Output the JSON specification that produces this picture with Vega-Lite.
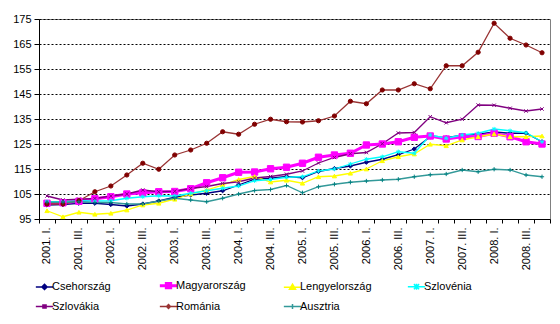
{
"$schema": "https://vega.github.io/schema/vega-lite/v6.json",
"width": 511, "height": 200,
"autosize": {"type": "none"},
"padding": {"left": 39, "top": 19, "right": 10, "bottom": 105},
"background": "white",
"config": {
  "font": "Liberation Sans",
  "view": {"stroke": "#808080", "strokeWidth": 1},
  "axis": {"labelFont": "Liberation Sans", "labelFontSize": 11, "labelColor": "black", "domainColor": "black", "tickColor": "black", "title": null}
},
"data": {"values": [
{"q":"2001. I.","c":"Csehország","v":100.6},{"q":"2001. II.","c":"Csehország","v":100.8},{"q":"2001. III.","c":"Csehország","v":101.3},{"q":"2001. IV.","c":"Csehország","v":101.3},
{"q":"2002. I.","c":"Csehország","v":100.8},{"q":"2002. II.","c":"Csehország","v":100.2},{"q":"2002. III.","c":"Csehország","v":101.0},{"q":"2002. IV.","c":"Csehország","v":102.2},
{"q":"2003. I.","c":"Csehország","v":103.7},{"q":"2003. II.","c":"Csehország","v":104.6},{"q":"2003. III.","c":"Csehország","v":105.3},{"q":"2003. IV.","c":"Csehország","v":106.3},
{"q":"2004. I.","c":"Csehország","v":108.6},{"q":"2004. II.","c":"Csehország","v":110.9},{"q":"2004. III.","c":"Csehország","v":111.3},{"q":"2004. IV.","c":"Csehország","v":112.0},
{"q":"2005. I.","c":"Csehország","v":111.5},{"q":"2005. II.","c":"Csehország","v":114.0},{"q":"2005. III.","c":"Csehország","v":115.2},{"q":"2005. IV.","c":"Csehország","v":116.2},
{"q":"2006. I.","c":"Csehország","v":117.7},{"q":"2006. II.","c":"Csehország","v":118.9},{"q":"2006. III.","c":"Csehország","v":120.7},{"q":"2006. IV.","c":"Csehország","v":123.0},
{"q":"2007. I.","c":"Csehország","v":127.9},{"q":"2007. II.","c":"Csehország","v":127.5},{"q":"2007. III.","c":"Csehország","v":128.5},{"q":"2007. IV.","c":"Csehország","v":128.9},
{"q":"2008. I.","c":"Csehország","v":129.8},{"q":"2008. II.","c":"Csehország","v":129.3},{"q":"2008. III.","c":"Csehország","v":129.3},{"q":"2008. IV.","c":"Csehország","v":125.9},
{"q":"2001. I.","c":"Magyarország","v":101.3},{"q":"2001. II.","c":"Magyarország","v":101.5},{"q":"2001. III.","c":"Magyarország","v":102.1},{"q":"2001. IV.","c":"Magyarország","v":103.1},
{"q":"2002. I.","c":"Magyarország","v":103.9},{"q":"2002. II.","c":"Magyarország","v":105.0},{"q":"2002. III.","c":"Magyarország","v":105.5},{"q":"2002. IV.","c":"Magyarország","v":105.9},
{"q":"2003. I.","c":"Magyarország","v":106.0},{"q":"2003. II.","c":"Magyarország","v":107.1},{"q":"2003. III.","c":"Magyarország","v":109.5},{"q":"2003. IV.","c":"Magyarország","v":111.5},
{"q":"2004. I.","c":"Magyarország","v":113.7},{"q":"2004. II.","c":"Magyarország","v":113.8},{"q":"2004. III.","c":"Magyarország","v":115.1},{"q":"2004. IV.","c":"Magyarország","v":115.7},
{"q":"2005. I.","c":"Magyarország","v":117.3},{"q":"2005. II.","c":"Magyarország","v":119.7},{"q":"2005. III.","c":"Magyarország","v":120.6},{"q":"2005. IV.","c":"Magyarország","v":121.3},
{"q":"2006. I.","c":"Magyarország","v":124.6},{"q":"2006. II.","c":"Magyarország","v":125.0},{"q":"2006. III.","c":"Magyarország","v":125.9},{"q":"2006. IV.","c":"Magyarország","v":127.7},
{"q":"2007. I.","c":"Magyarország","v":128.2},{"q":"2007. II.","c":"Magyarország","v":127.0},{"q":"2007. III.","c":"Magyarország","v":127.9},{"q":"2007. IV.","c":"Magyarország","v":128.0},
{"q":"2008. I.","c":"Magyarország","v":129.3},{"q":"2008. II.","c":"Magyarország","v":127.9},{"q":"2008. III.","c":"Magyarország","v":125.9},{"q":"2008. IV.","c":"Magyarország","v":125.0},
{"q":"2001. I.","c":"Lengyelország","v":98.3},{"q":"2001. II.","c":"Lengyelország","v":95.9},{"q":"2001. III.","c":"Lengyelország","v":97.7},{"q":"2001. IV.","c":"Lengyelország","v":96.9},
{"q":"2002. I.","c":"Lengyelország","v":97.3},{"q":"2002. II.","c":"Lengyelország","v":98.6},{"q":"2002. III.","c":"Lengyelország","v":100.6},{"q":"2002. IV.","c":"Lengyelország","v":101.3},
{"q":"2003. I.","c":"Lengyelország","v":102.9},{"q":"2003. II.","c":"Lengyelország","v":105.0},{"q":"2003. III.","c":"Lengyelország","v":106.6},{"q":"2003. IV.","c":"Lengyelország","v":108.6},
{"q":"2004. I.","c":"Lengyelország","v":110.8},{"q":"2004. II.","c":"Lengyelország","v":112.0},{"q":"2004. III.","c":"Lengyelország","v":109.8},{"q":"2004. IV.","c":"Lengyelország","v":110.5},
{"q":"2005. I.","c":"Lengyelország","v":109.3},{"q":"2005. II.","c":"Lengyelország","v":111.9},{"q":"2005. III.","c":"Lengyelország","v":112.2},{"q":"2005. IV.","c":"Lengyelország","v":113.3},
{"q":"2006. I.","c":"Lengyelország","v":115.0},{"q":"2006. II.","c":"Lengyelország","v":118.3},{"q":"2006. III.","c":"Lengyelország","v":119.9},{"q":"2006. IV.","c":"Lengyelország","v":121.0},
{"q":"2007. I.","c":"Lengyelország","v":124.9},{"q":"2007. II.","c":"Lengyelország","v":124.3},{"q":"2007. III.","c":"Lengyelország","v":126.6},{"q":"2007. IV.","c":"Lengyelország","v":127.9},
{"q":"2008. I.","c":"Lengyelország","v":129.0},{"q":"2008. II.","c":"Lengyelország","v":127.9},{"q":"2008. III.","c":"Lengyelország","v":127.9},{"q":"2008. IV.","c":"Lengyelország","v":128.2},
{"q":"2001. I.","c":"Szlovénia","v":101.9},{"q":"2001. II.","c":"Szlovénia","v":101.9},{"q":"2001. III.","c":"Szlovénia","v":102.3},{"q":"2001. IV.","c":"Szlovénia","v":102.2},
{"q":"2002. I.","c":"Szlovénia","v":102.3},{"q":"2002. II.","c":"Szlovénia","v":103.3},{"q":"2002. III.","c":"Szlovénia","v":103.9},{"q":"2002. IV.","c":"Szlovénia","v":104.3},
{"q":"2003. I.","c":"Szlovénia","v":104.2},{"q":"2003. II.","c":"Szlovénia","v":105.3},{"q":"2003. III.","c":"Szlovénia","v":106.3},{"q":"2003. IV.","c":"Szlovénia","v":107.3},
{"q":"2004. I.","c":"Szlovénia","v":108.2},{"q":"2004. II.","c":"Szlovénia","v":110.3},{"q":"2004. III.","c":"Szlovénia","v":110.8},{"q":"2004. IV.","c":"Szlovénia","v":111.7},
{"q":"2005. I.","c":"Szlovénia","v":111.9},{"q":"2005. II.","c":"Szlovénia","v":114.2},{"q":"2005. III.","c":"Szlovénia","v":115.0},{"q":"2005. IV.","c":"Szlovénia","v":117.0},
{"q":"2006. I.","c":"Szlovénia","v":118.9},{"q":"2006. II.","c":"Szlovénia","v":119.9},{"q":"2006. III.","c":"Szlovénia","v":121.9},{"q":"2006. IV.","c":"Szlovénia","v":121.3},
{"q":"2007. I.","c":"Szlovénia","v":128.6},{"q":"2007. II.","c":"Szlovénia","v":127.3},{"q":"2007. III.","c":"Szlovénia","v":128.6},{"q":"2007. IV.","c":"Szlovénia","v":129.3},
{"q":"2008. I.","c":"Szlovénia","v":131.0},{"q":"2008. II.","c":"Szlovénia","v":130.3},{"q":"2008. III.","c":"Szlovénia","v":129.5},{"q":"2008. IV.","c":"Szlovénia","v":125.9},
{"q":"2001. I.","c":"Szlovákia","v":104.2},{"q":"2001. II.","c":"Szlovákia","v":102.6},{"q":"2001. III.","c":"Szlovákia","v":102.9},{"q":"2001. IV.","c":"Szlovákia","v":103.2},
{"q":"2002. I.","c":"Szlovákia","v":104.2},{"q":"2002. II.","c":"Szlovákia","v":105.0},{"q":"2002. III.","c":"Szlovákia","v":106.6},{"q":"2002. IV.","c":"Szlovákia","v":105.9},
{"q":"2003. I.","c":"Szlovákia","v":106.1},{"q":"2003. II.","c":"Szlovákia","v":107.2},{"q":"2003. III.","c":"Szlovákia","v":108.0},{"q":"2003. IV.","c":"Szlovákia","v":109.2},
{"q":"2004. I.","c":"Szlovákia","v":109.9},{"q":"2004. II.","c":"Szlovákia","v":111.4},{"q":"2004. III.","c":"Szlovákia","v":112.0},{"q":"2004. IV.","c":"Szlovákia","v":112.9},
{"q":"2005. I.","c":"Szlovákia","v":114.2},{"q":"2005. II.","c":"Szlovákia","v":117.4},{"q":"2005. III.","c":"Szlovákia","v":119.6},{"q":"2005. IV.","c":"Szlovákia","v":121.1},
{"q":"2006. I.","c":"Szlovákia","v":121.6},{"q":"2006. II.","c":"Szlovákia","v":125.1},{"q":"2006. III.","c":"Szlovákia","v":129.4},{"q":"2006. IV.","c":"Szlovákia","v":129.6},
{"q":"2007. I.","c":"Szlovákia","v":135.9},{"q":"2007. II.","c":"Szlovákia","v":133.5},{"q":"2007. III.","c":"Szlovákia","v":134.9},{"q":"2007. IV.","c":"Szlovákia","v":140.6},
{"q":"2008. I.","c":"Szlovákia","v":140.5},{"q":"2008. II.","c":"Szlovákia","v":139.3},{"q":"2008. III.","c":"Szlovákia","v":138.2},{"q":"2008. IV.","c":"Szlovákia","v":139.0},
{"q":"2001. I.","c":"Románia","v":101.0},{"q":"2001. II.","c":"Románia","v":101.0},{"q":"2001. III.","c":"Románia","v":102.3},{"q":"2001. IV.","c":"Románia","v":105.9},
{"q":"2002. I.","c":"Románia","v":108.2},{"q":"2002. II.","c":"Románia","v":112.6},{"q":"2002. III.","c":"Románia","v":117.3},{"q":"2002. IV.","c":"Románia","v":114.9},
{"q":"2003. I.","c":"Románia","v":120.6},{"q":"2003. II.","c":"Románia","v":122.6},{"q":"2003. III.","c":"Románia","v":125.3},{"q":"2003. IV.","c":"Románia","v":129.9},
{"q":"2004. I.","c":"Románia","v":128.9},{"q":"2004. II.","c":"Románia","v":132.9},{"q":"2004. III.","c":"Románia","v":134.9},{"q":"2004. IV.","c":"Románia","v":133.9},
{"q":"2005. I.","c":"Románia","v":133.8},{"q":"2005. II.","c":"Románia","v":134.3},{"q":"2005. III.","c":"Románia","v":136.2},{"q":"2005. IV.","c":"Románia","v":142.1},
{"q":"2006. I.","c":"Románia","v":141.1},{"q":"2006. II.","c":"Románia","v":146.6},{"q":"2006. III.","c":"Románia","v":146.6},{"q":"2006. IV.","c":"Románia","v":149.1},
{"q":"2007. I.","c":"Románia","v":147.1},{"q":"2007. II.","c":"Románia","v":156.3},{"q":"2007. III.","c":"Románia","v":156.3},{"q":"2007. IV.","c":"Románia","v":161.7},
{"q":"2008. I.","c":"Románia","v":173.3},{"q":"2008. II.","c":"Románia","v":167.3},{"q":"2008. III.","c":"Románia","v":164.6},{"q":"2008. IV.","c":"Románia","v":161.5},
{"q":"2001. I.","c":"Ausztria","v":101.7},{"q":"2001. II.","c":"Ausztria","v":101.7},{"q":"2001. III.","c":"Ausztria","v":101.9},{"q":"2001. IV.","c":"Ausztria","v":101.6},
{"q":"2002. I.","c":"Ausztria","v":101.6},{"q":"2002. II.","c":"Ausztria","v":101.0},{"q":"2002. III.","c":"Ausztria","v":101.0},{"q":"2002. IV.","c":"Ausztria","v":102.2},
{"q":"2003. I.","c":"Ausztria","v":103.3},{"q":"2003. II.","c":"Ausztria","v":102.6},{"q":"2003. III.","c":"Ausztria","v":101.9},{"q":"2003. IV.","c":"Ausztria","v":103.3},
{"q":"2004. I.","c":"Ausztria","v":105.0},{"q":"2004. II.","c":"Ausztria","v":106.4},{"q":"2004. III.","c":"Ausztria","v":106.8},{"q":"2004. IV.","c":"Ausztria","v":108.4},
{"q":"2005. I.","c":"Ausztria","v":105.5},{"q":"2005. II.","c":"Ausztria","v":107.9},{"q":"2005. III.","c":"Ausztria","v":108.9},{"q":"2005. IV.","c":"Ausztria","v":109.7},
{"q":"2006. I.","c":"Ausztria","v":110.2},{"q":"2006. II.","c":"Ausztria","v":110.6},{"q":"2006. III.","c":"Ausztria","v":110.9},{"q":"2006. IV.","c":"Ausztria","v":111.9},
{"q":"2007. I.","c":"Ausztria","v":112.7},{"q":"2007. II.","c":"Ausztria","v":113.0},{"q":"2007. III.","c":"Ausztria","v":114.6},{"q":"2007. IV.","c":"Ausztria","v":113.9},
{"q":"2008. I.","c":"Ausztria","v":114.9},{"q":"2008. II.","c":"Ausztria","v":114.6},{"q":"2008. III.","c":"Ausztria","v":112.6},{"q":"2008. IV.","c":"Ausztria","v":111.9}
]},
"encoding": {
  "x": {"field": "q", "type": "ordinal", "sort": null,
    "scale": {"paddingInner": 0, "paddingOuter": 0},
    "axis": {"labelAngle": 270, "tickBand": "extent", "tickSize": 4, "labelPadding": 4, "labelOverlap": false, "domainWidth": 1,
      "labelExpr": "test(/ (I|III)\\.$/, datum.label) ? datum.label : ''"}},
  "y": {"field": "v", "type": "quantitative",
    "scale": {"domain": [95, 175], "zero": false, "nice": false},
    "axis": {"values": [95,105,115,125,135,145,155,165,175], "grid": true, "gridColor": "black", "gridDash": [2,2], "gridWidth": 1, "tickSize": 5, "labelPadding": 3, "domainWidth": 1}}
},
"layer": [
  {"mark": {"type": "line"},
   "encoding": {
     "color": {"field": "c", "type": "nominal",
       "scale": {"domain": ["Csehország","Magyarország","Lengyelország","Szlovénia","Szlovákia","Románia","Ausztria"],
                 "range": ["#000080","#FF00FF","#FFFF00","#00FFFF","#800080","#993333","#339999"]},
       "legend": {"title": null, "orient": "bottom", "columns": 4, "gridAlign": "all", "symbolType": "stroke", "symbolSize": 300, "symbolStrokeWidth": 1.5,
         "labelFont": "Liberation Sans", "labelFontSize": 11, "labelColor": "black", "columnPadding": 29, "rowPadding": 6, "offset": 10, "labelOffset": 2,
         "encode": {"symbols": {"update": {
           "fill": {"scale": "color", "field": "value"},
           "strokeWidth": {"signal": "datum.value === 'Magyarország' ? 3 : 1.5"},
           "shape": {"signal": "datum.value === 'Csehország' ? 'M-1,0H1M0,-0.3L0.3,0L0,0.3L-0.3,0Z' : datum.value === 'Magyarország' ? 'M-1,0H1M-0.25,-0.25H0.25V0.25H-0.25Z' : datum.value === 'Lengyelország' ? 'M-1,0H1M0,-0.35L0.35,0.25H-0.35Z' : datum.value === 'Szlovénia' ? 'M-1,0H1M0,-0.35V0.35M-0.3,-0.3L0.3,0.3M-0.3,0.3L0.3,-0.3' : datum.value === 'Szlovákia' ? 'M-1,0H1M-0.18,-0.18H0.18V0.18H-0.18Z' : datum.value === 'Románia' ? 'M-1,0H1M0,-0.22L0.22,0L0,0.22L-0.22,0Z' : 'M-1,0H1M0,-0.3V0.3'"}
         }}}}},
     "strokeWidth": {"condition": {"test": "datum.c === 'Magyarország'", "value": 3}, "value": 1.3}}},
  {"mark": {"type": "point", "opacity": 1, "strokeWidth": 1, "filled": false},
   "encoding": {
     "shape": {"condition": [
        {"test": "datum.c === 'Csehország'", "value": "diamond"},
        {"test": "datum.c === 'Magyarország'", "value": "square"},
        {"test": "datum.c === 'Lengyelország'", "value": "triangle-up"},
        {"test": "datum.c === 'Szlovénia'", "value": "M-1,0H1M0,-1V1M-0.7,-0.7L0.7,0.7M-0.7,0.7L0.7,-0.7"},
        {"test": "datum.c === 'Szlovákia'", "value": "M-0.8,-0.8L0.8,0.8M-0.8,0.8L0.8,-0.8"},
        {"test": "datum.c === 'Románia'", "value": "circle"}],
        "value": "M-1,0H1M0,-1V1"},
     "fill": {"condition": [
        {"test": "datum.c === 'Csehország'", "value": "#000080"},
        {"test": "datum.c === 'Magyarország'", "value": "#FF00FF"},
        {"test": "datum.c === 'Lengyelország'", "value": "#FFFF00"},
        {"test": "datum.c === 'Szlovénia'", "value": "#00FFFF"},
        {"test": "datum.c === 'Szlovákia'", "value": "#800080"},
        {"test": "datum.c === 'Románia'", "value": "#800000"}],
        "value": "#008080"},
     "stroke": {"condition": [
        {"test": "datum.c === 'Csehország'", "value": "#000080"},
        {"test": "datum.c === 'Magyarország'", "value": "#FF00FF"},
        {"test": "datum.c === 'Lengyelország'", "value": "#FFFF00"},
        {"test": "datum.c === 'Szlovénia'", "value": "#00FFFF"},
        {"test": "datum.c === 'Szlovákia'", "value": "#800080"},
        {"test": "datum.c === 'Románia'", "value": "#800000"}],
        "value": "#008080"},
     "size": {"condition": {"test": "datum.c === 'Magyarország'", "value": 40}, "value": 18}
   }}
]
}
